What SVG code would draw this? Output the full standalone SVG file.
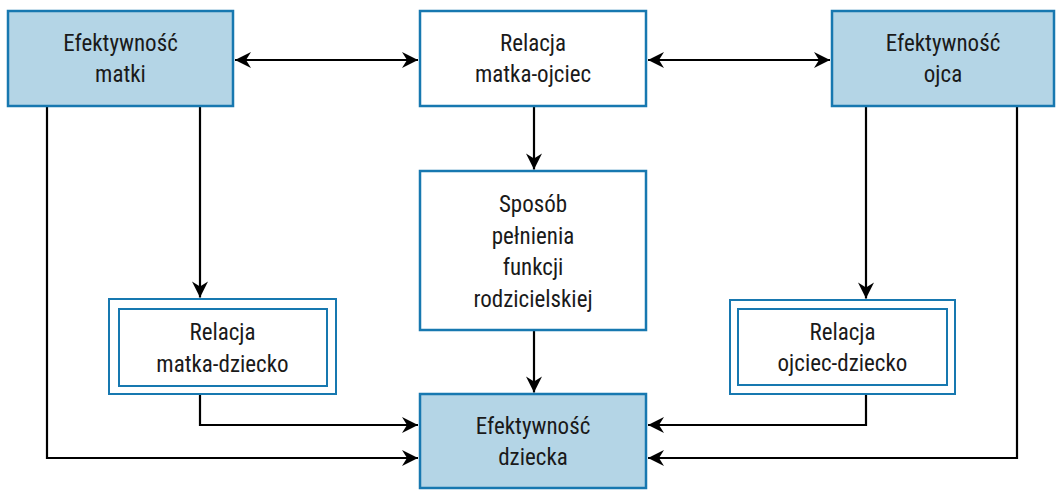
<svg xmlns="http://www.w3.org/2000/svg" width="1056" height="490" viewBox="0 0 1056 490">
  <defs>
    <marker id="arr" markerUnits="userSpaceOnUse" markerWidth="20" markerHeight="20" viewBox="-18 -10 20 20" refX="0" refY="0" orient="auto-start-reverse">
      <path d="M0,0 L-16,-8 L-11,0 L-16,8 Z" fill="#000"/>
    </marker>
  </defs>
  <style>
    .box{fill:#fff;stroke:#1778b0;stroke-width:2.5}
    .fill{fill:#b4d5e6}
    .thin{fill:#fff;stroke:#1778b0;stroke-width:2}
    .lbl{font-family:"Liberation Sans Narrow","Roboto Condensed","Liberation Sans",Arial,sans-serif;font-stretch:condensed;font-size:23px;fill:#1a1a1a;text-anchor:middle}
    .ln{fill:none;stroke:#000;stroke-width:2.2}
  </style>
  <rect width="1056" height="490" fill="#fff"/>
  <g id="connectors">
    <path class="ln" d="M235,60 H418" marker-start="url(#arr)" marker-end="url(#arr)"/>
    <path class="ln" d="M648,60 H830" marker-start="url(#arr)" marker-end="url(#arr)"/>
    <path class="ln" d="M534,107 V169.5" marker-end="url(#arr)"/>
    <path class="ln" d="M534,331 V392.5" marker-end="url(#arr)"/>
    <path class="ln" d="M47,107 V458 H418" marker-end="url(#arr)"/>
    <path class="ln" d="M200,107 V297.5" marker-end="url(#arr)"/>
    <path class="ln" d="M200,395 V425 H418" marker-end="url(#arr)"/>
    <path class="ln" d="M866,107 V298.5" marker-end="url(#arr)"/>
    <path class="ln" d="M866,395 V425 H648" marker-end="url(#arr)"/>
    <path class="ln" d="M1017,107 V458 H648" marker-end="url(#arr)"/>
  </g>
  <g id="efektywnosc-matki">
    <rect class="box fill" x="8" y="11" width="225" height="95"/>
    <text class="lbl" x="120.5" y="51">Efektywność</text>
    <text class="lbl" x="120.5" y="82">matki</text>
  </g>
  <g id="relacja-matka-ojciec">
    <rect class="box" x="420" y="11" width="226" height="95"/>
    <text class="lbl" x="533" y="51">Relacja</text>
    <text class="lbl" x="533" y="82">matka-ojciec</text>
  </g>
  <g id="efektywnosc-ojca">
    <rect class="box fill" x="832" y="11" width="222" height="95"/>
    <text class="lbl" x="943" y="51">Efektywność</text>
    <text class="lbl" x="943" y="82">ojca</text>
  </g>
  <g id="sposob">
    <rect class="box" x="420" y="171" width="226" height="159"/>
    <text class="lbl" x="533" y="212">Sposób</text>
    <text class="lbl" x="533" y="243.5">pełnienia</text>
    <text class="lbl" x="533" y="275">funkcji</text>
    <text class="lbl" x="533" y="306.5">rodzicielskiej</text>
  </g>
  <g id="relacja-matka-dziecko">
    <rect class="thin" x="109" y="299" width="227" height="95"/>
    <rect class="thin" x="119" y="309" width="208" height="77"/>
    <text class="lbl" x="222.5" y="340">Relacja</text>
    <text class="lbl" x="222.5" y="371.5">matka-dziecko</text>
  </g>
  <g id="relacja-ojciec-dziecko">
    <rect class="thin" x="730" y="300" width="225" height="94"/>
    <rect class="thin" x="738" y="309" width="209" height="76"/>
    <text class="lbl" x="842.5" y="340">Relacja</text>
    <text class="lbl" x="842.5" y="371">ojciec-dziecko</text>
  </g>
  <g id="efektywnosc-dziecka">
    <rect class="box fill" x="420" y="394" width="226" height="94"/>
    <text class="lbl" x="533" y="434">Efektywność</text>
    <text class="lbl" x="533" y="465">dziecka</text>
  </g>
</svg>
